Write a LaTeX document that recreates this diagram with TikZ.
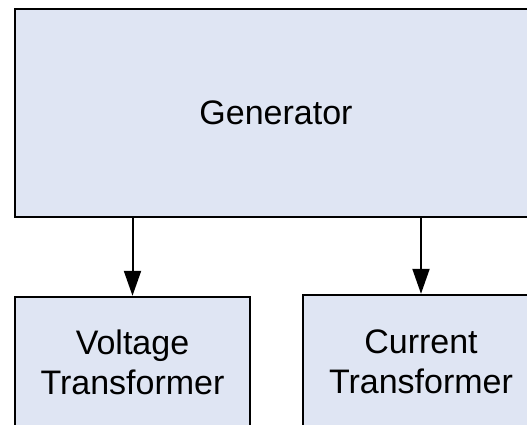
\documentclass[tikz,border=0pt]{standalone}
\usepackage{fontspec}
\setmainfont{Liberation Sans}
\usepackage{tikz}
\usetikzlibrary{arrows.meta,positioning,calc}
\definecolor{boxblue}{RGB}{223,229,243}

\begin{document}
\begin{tikzpicture}[x=1pt, y=-1pt,
        every node/.style={font=\fontsize{34}{40}\selectfont},
        blockbox/.style={draw=black, line width=2.4pt, fill=boxblue, align=center, inner sep=0pt},
        flowarrow/.style={-{Triangle[length=25pt, width=17pt]}, line width=2pt}]
        \useasboundingbox (0,0) rectangle (527,425);
        \clip (0,0) rectangle (527,425);
        \node[blockbox, minimum width=522pt, minimum height=208pt] (gen) at (276,113) {Generator};
        \node[blockbox, minimum width=235pt, minimum height=130pt] (vt) at (132.5,362) {Voltage\\Transformer};
        \node[blockbox, minimum width=236pt, minimum height=134pt] (ct) at (421,362) {Current\\Transformer};
        \draw[flowarrow] (gen.south -| vt.north) -- (vt.north);
        \draw[flowarrow] (gen.south -| ct.north) -- (ct.north);
    \end{tikzpicture}
\end{document}
